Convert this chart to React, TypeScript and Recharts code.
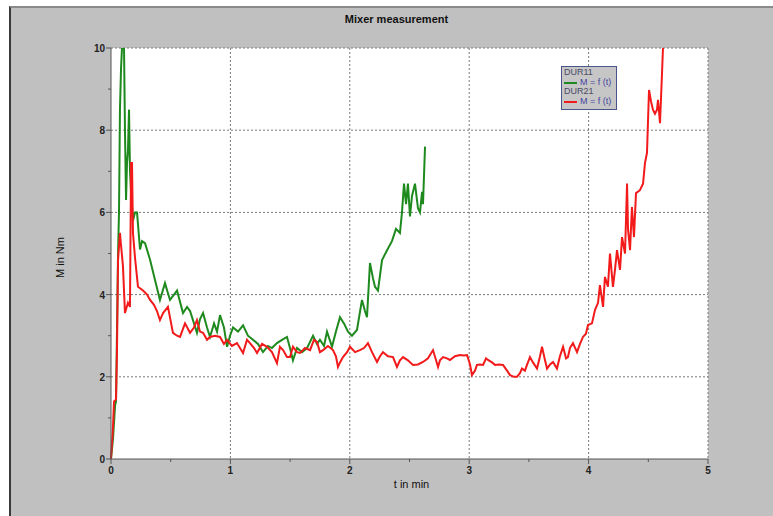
import { LineChart, Line, XAxis, YAxis, CartesianGrid, Label } from "recharts";

// Mixer measurement: torque M over time t for two runs (DUR11, DUR21).
const GREEN = "#1e8a1e";
const RED = "#f21a1a";
const FONT = "'Liberation Sans', Arial, sans-serif";

const xTicks = [0, 0.5, 1, 1.5, 2, 2.5, 3, 3.5, 4, 4.5, 5];
const yTicks = [0, 1, 2, 3, 4, 5, 6, 7, 8, 9, 10];
const xGrid = [1, 2, 3, 4, 5];
const yGrid = [2, 4, 6, 8, 10];

// DUR11 (green)
const time11 = [
  0, 0.017, 0.034, 0.042, 0.059, 0.067, 0.075, 0.084, 0.092, 0.109, 0.117, 0.126, 0.134, 0.142,
  0.151, 0.159, 0.168, 0.184, 0.201, 0.218, 0.243, 0.26, 0.285, 0.327, 0.369, 0.41, 0.452, 0.494,
  0.528, 0.553, 0.603, 0.637, 0.662, 0.695, 0.72, 0.745, 0.771, 0.804, 0.829, 0.863, 0.888, 0.913,
  0.946, 0.972, 0.997, 1.022, 1.064, 1.106, 1.147, 1.189, 1.231, 1.273, 1.315, 1.348, 1.39, 1.432,
  1.474, 1.499, 1.524, 1.558, 1.6, 1.642, 1.667, 1.692, 1.725, 1.75, 1.784, 1.809, 1.851, 1.884,
  1.918, 1.951, 1.985, 2.018, 2.06, 2.102, 2.127, 2.144, 2.169, 2.194, 2.211, 2.236, 2.27, 2.312,
  2.353, 2.387, 2.42, 2.437, 2.454, 2.471, 2.487, 2.504, 2.521, 2.546, 2.571, 2.588, 2.605, 2.613,
  2.63,
];
const torque11 = [
  0, 0.5, 1.3, 1.4, 5.0, 6.0, 8.5, 9.5, 10, 10, 8.0, 6.3, 7.2, 7.5,
  8.5, 7.0, 6.5, 5.8, 6.0, 6.0, 5.1, 5.3, 5.25, 4.85, 4.35, 3.87, 4.28, 3.87,
  4.0, 4.1, 3.55, 3.7, 3.6, 3.3, 3.07, 3.4, 3.55, 3.2, 2.97, 3.3, 3.1, 3.5,
  3.2, 2.73, 3.0, 3.2, 3.1, 3.25, 3.0, 2.9, 2.8, 2.6, 2.75, 2.7, 2.82, 2.9,
  2.97, 2.7, 2.4, 2.7, 2.6, 2.7, 2.85, 3.0, 2.8, 2.9, 2.75, 3.1, 2.73, 3.1,
  3.45, 3.3, 3.1, 3.0, 3.14, 3.87, 3.6, 3.45, 4.77, 4.4, 4.19, 4.1, 4.84, 5.08,
  5.3, 5.6, 5.5, 6.0, 6.7, 6.2, 6.7, 5.9, 6.4, 6.7, 6.1, 6.0, 6.5, 6.2,
  7.6,
];

// DUR21 (red)
const time21 = [
  0, 0.017, 0.025, 0.042, 0.05, 0.059, 0.075, 0.084, 0.1, 0.117, 0.142, 0.159, 0.168, 0.176,
  0.184, 0.201, 0.226, 0.268, 0.302, 0.327, 0.36, 0.385, 0.41, 0.436, 0.477, 0.519, 0.553, 0.578,
  0.62, 0.662, 0.695, 0.72, 0.745, 0.771, 0.804, 0.829, 0.871, 0.913, 0.946, 0.972, 1.013, 1.055,
  1.106, 1.139, 1.164, 1.198, 1.223, 1.265, 1.307, 1.348, 1.39, 1.415, 1.441, 1.474, 1.499, 1.524,
  1.558, 1.583, 1.625, 1.667, 1.7, 1.725, 1.75, 1.776, 1.817, 1.859, 1.884, 1.901, 1.918, 1.943,
  1.977, 2.002, 2.044, 2.085, 2.119, 2.152, 2.186, 2.228, 2.253, 2.278, 2.32, 2.362, 2.395, 2.42,
  2.446, 2.487, 2.529, 2.571, 2.613, 2.655, 2.697, 2.739, 2.755, 2.781, 2.814, 2.839, 2.881, 2.923,
  2.956, 2.982, 3.007, 3.023, 3.049, 3.065, 3.09, 3.116, 3.141, 3.157, 3.191, 3.216, 3.25, 3.283,
  3.317, 3.342, 3.375, 3.4, 3.425, 3.442, 3.467, 3.484, 3.509, 3.534, 3.568, 3.593, 3.61, 3.635,
  3.652, 3.677, 3.702, 3.735, 3.76, 3.786, 3.811, 3.827, 3.844, 3.869, 3.903, 3.928, 3.953, 3.978,
  3.995, 4.028, 4.054, 4.079, 4.095, 4.121, 4.137, 4.162, 4.179, 4.204, 4.221, 4.238, 4.263, 4.28,
  4.305, 4.322, 4.33, 4.347, 4.363, 4.38, 4.397, 4.43, 4.456, 4.472, 4.489, 4.506, 4.523, 4.539,
  4.556, 4.573, 4.581, 4.598, 4.615, 4.623,
];
const torque21 = [
  0, 0.8, 1.4, 1.45, 2.6, 4.84, 5.5, 5.2, 4.7, 3.55, 3.8, 3.7, 7.2, 7.2,
  5.5, 4.9, 4.19, 4.1, 4.0, 3.87, 3.75, 3.6, 3.38, 3.55, 3.7, 3.07, 3.0, 2.97,
  3.3, 3.07, 3.2, 3.38, 3.1, 3.07, 2.9, 2.97, 3.0, 2.97, 2.8, 2.9, 2.75, 2.82,
  2.58, 2.9, 2.82, 2.7, 2.58, 2.8, 2.73, 2.6, 2.33, 2.73, 2.65, 2.48, 2.48, 2.73,
  2.6, 2.58, 2.7, 2.65, 2.9, 2.85, 2.6, 2.65, 2.75, 2.65, 2.5, 2.24, 2.35, 2.48,
  2.6, 2.73, 2.6, 2.65, 2.7, 2.82, 2.6, 2.36, 2.5, 2.6, 2.5, 2.48, 2.24, 2.4,
  2.48, 2.4, 2.29, 2.3, 2.36, 2.45, 2.65, 2.24, 2.4, 2.48, 2.45, 2.41, 2.5, 2.53,
  2.52, 2.53, 2.3, 2.04, 2.15, 2.29, 2.3, 2.29, 2.45, 2.41, 2.35, 2.29, 2.3, 2.29,
  2.15, 2.04, 2.0, 2.0, 2.09, 2.2, 2.15, 2.29, 2.48, 2.35, 2.2, 2.5, 2.73, 2.4,
  2.2, 2.3, 2.36, 2.2, 2.5, 2.73, 2.45, 2.48, 2.7, 2.82, 2.6, 2.8, 2.97, 3.05,
  3.26, 3.3, 3.63, 3.8, 4.23, 3.7, 4.43, 4.19, 5.0, 4.19, 4.6, 5.08, 4.6, 5.4,
  5.0, 6.7, 5.6, 5.08, 6.13, 5.4, 6.47, 6.54, 6.7, 7.2, 7.45, 8.98, 8.7, 8.5,
  8.4, 8.5, 8.74, 8.17, 9.4, 10,
];

const dur11 = time11.map((t, i) => ({ t, m: torque11[i] }));
const dur21 = time21.map((t, i) => ({ t, m: torque21[i] }));

const XTick = ({ x, y, payload }: any) => {
  const major = payload.value % 1 === 0;
  return (
    <g>
      <line x1={x} x2={x} y1={y} y2={y + (major ? 5 : 3)} stroke="#555" />
      {major && (
        <text x={x} y={y + 15} textAnchor="middle" fontSize={10} fontWeight="bold" fill="#222" fontFamily={FONT}>
          {payload.value}
        </text>
      )}
    </g>
  );
};

const YTick = ({ x, y, payload }: any) => {
  const major = payload.value % 2 === 0;
  return (
    <g>
      <line x1={x - (major ? 5 : 3)} x2={x} y1={y} y2={y} stroke="#555" />
      {major && (
        <text x={x - 6} y={y + 4} textAnchor="end" fontSize={10} fontWeight="bold" fill="#222" fontFamily={FONT}>
          {payload.value}
        </text>
      )}
    </g>
  );
};

const LegendBox = () => (
  <div
    style={{
      position: "absolute",
      left: 561,
      top: 66,
      width: 51,
      background: "#c6c6c6",
      border: "1px solid #4b5488",
      fontFamily: FONT,
      fontSize: 9,
      lineHeight: "9.7px",
      padding: "1px 1px 2px 2px",
    }}
  >
    <div style={{ color: "#4a4a66" }}>DUR11</div>
    <div style={{ display: "flex", alignItems: "center", color: "#4646a0" }}>
      <span style={{ width: 13, height: 2, background: GREEN, marginRight: 3 }} />M = f (t)
    </div>
    <div style={{ color: "#4a4a66" }}>DUR21</div>
    <div style={{ display: "flex", alignItems: "center", color: "#4646a0" }}>
      <span style={{ width: 13, height: 2, background: RED, marginRight: 3 }} />M = f (t)
    </div>
  </div>
);

export default function App() {
  return (
    <div style={{ position: "fixed", left: 0, top: 0, width: 773, height: 516, background: "#fff", overflow: "hidden" }}>
      <div
        style={{
          position: "absolute",
          left: 9,
          top: 6,
          width: 780,
          height: 520,
          background: "#c0c0c0",
          borderLeft: "2px solid #3a3a3a",
          borderTop: "2px solid #8a8a8a",
        }}
      />
      <div
        style={{
          position: "absolute",
          left: 0,
          width: 793,
          top: 13,
          textAlign: "center",
          fontFamily: "'Liberation Sans Narrow', 'Liberation Sans', Arial, sans-serif",
          fontWeight: "bold",
          fontSize: 11,
          color: "#111",
        }}
      >
        Mixer measurement
      </div>
      <div style={{ position: "absolute", left: 0, top: 0 }}>
        <LineChart width={773} height={516} margin={{ top: 48, right: 65, bottom: 27, left: 51 }}>
          <CartesianGrid
            fill="#fff"
            stroke="#7a7a7a"
            strokeDasharray="2 2"
            verticalValues={xGrid}
            horizontalValues={yGrid}
          />
          <XAxis
            type="number"
            dataKey="t"
            domain={[0, 5]}
            ticks={xTicks}
            interval={0}
            height={30}
            tickSize={0}
            tickMargin={0}
            tickLine={false}
            tick={<XTick />}
            stroke="#555"
            allowDuplicatedCategory={false}
          >
            <Label
              content={({ viewBox }: any) => (
                <text
                  x={viewBox.x + viewBox.width / 2 + 2}
                  y={viewBox.y + 29}
                  textAnchor="middle"
                  fontSize={11}
                  fill="#111"
                  fontFamily={FONT}
                >
                  t in min
                </text>
              )}
            />
          </XAxis>
          <YAxis
            type="number"
            domain={[0, 10]}
            ticks={yTicks}
            interval={0}
            width={60}
            tickSize={0}
            tickMargin={0}
            tickLine={false}
            tick={<YTick />}
            stroke="#555"
            allowDataOverflow
          >
            <Label
              content={({ viewBox }: any) => {
                const cx = viewBox.x + 13;
                const cy = viewBox.y + viewBox.height / 2 + 4;
                return (
                  <text
                    x={cx}
                    y={cy}
                    transform={`rotate(-90 ${cx} ${cy})`}
                    textAnchor="middle"
                    fontSize={11}
                    fill="#111"
                    fontFamily={FONT}
                  >
                    M in Nm
                  </text>
                );
              }}
            />
          </YAxis>
          <Line
            data={dur11}
            dataKey="m"
            type="linear"
            stroke={GREEN}
            strokeWidth={2}
            dot={false}
            isAnimationActive={false}
          />
          <Line
            data={dur21}
            dataKey="m"
            type="linear"
            stroke={RED}
            strokeWidth={2}
            dot={false}
            isAnimationActive={false}
          />
        </LineChart>
      </div>
      <LegendBox />
    </div>
  );
}
